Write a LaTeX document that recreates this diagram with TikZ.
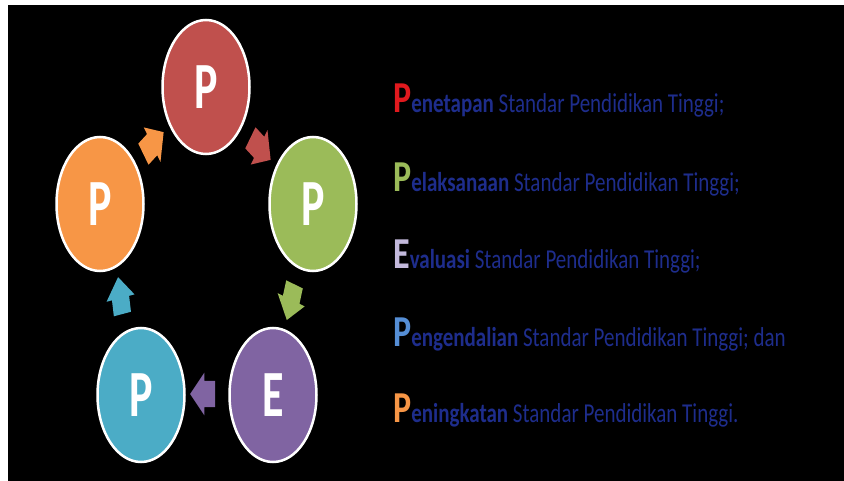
\documentclass[tikz,border=0pt]{standalone}
\usepackage{fontspec}
\setmainfont{Carlito}
\usetikzlibrary{shapes.geometric,shapes.arrows}
\definecolor{cred}{RGB}{192,80,77}
\definecolor{cgreen}{RGB}{155,187,89}
\definecolor{cpurple}{RGB}{128,100,162}
\definecolor{cblue}{RGB}{75,172,198}
\definecolor{corange}{RGB}{247,150,70}
\definecolor{navy}{RGB}{30,45,140}
\definecolor{lred}{RGB}{225,25,30}
\definecolor{llav}{RGB}{195,185,220}
\definecolor{lblue}{RGB}{85,142,213}
\newcommand\vstretch[1]{\scalebox{1}[1.5]{#1}}
\newcommand\tstretch[1]{\scalebox{1}[1.3]{#1}}
\tikzset{
  cyc/.style={ellipse, draw=white, line width=2.5pt, minimum width=87pt, minimum height=134pt,
    inner sep=0pt, text=white, font=\fontsize{44}{44}\selectfont\bfseries},
  blk/.style={single arrow, inner xsep=0pt, inner ysep=8.5pt, minimum height=25pt,
    single arrow head extend=5.5pt, draw=none, transform shape},
  txtline/.style={anchor=base west, inner sep=0pt, text=navy, font=\fontsize{21}{21}\selectfont}
}
\newcommand\initial[2]{{\color{#1}\fontsize{34}{34}\selectfont\bfseries #2}}
\begin{document}
\begin{tikzpicture}[x=1pt,y=-1pt]
\useasboundingbox (0,0) rectangle (844,481);
\fill[white] (0,0) rectangle (844,481);
\fill[black] (8,5) rectangle (844,481);
% cycle ellipses
\node[cyc, fill=cred]    (n1) at (206,87)  {\vstretch{P}};
\node[cyc, fill=cgreen]  (n2) at (313,204) {\vstretch{P}};
\node[cyc, fill=cpurple] (n3) at (273,395) {\vstretch{E}};
\node[cyc, fill=cblue]   (n4) at (141,395) {\vstretch{P}};
\node[cyc, fill=corange] (n5) at (100,204) {\vstretch{P}};
% block arrows
\begin{scope}[shift={(150,147)},yscale=1.5]
  \node[blk, fill=corange, rotate=36] (a5) at (0,0) {};
\end{scope}
\begin{scope}[shift={(257,145)},yscale=1.5]
  \node[blk, fill=cred, rotate=-36] (a1) at (0,0) {};
\end{scope}
\begin{scope}[shift={(292,296)},yscale=1.5]
  \node[blk, fill=cgreen, rotate=-108] (a2) at (0,0) {};
\end{scope}
\begin{scope}[shift={(207,394)},yscale=1.5]
  \node[blk, fill=cpurple, rotate=180] (a3) at (0,0) {};
\end{scope}
\begin{scope}[shift={(121,302)},yscale=1.5]
  \node[blk, fill=cblue, rotate=100] (a4) at (0,0) {};
\end{scope}
% text lines
\node[txtline] (t1) at (393,113) {\tstretch{\initial{lred}{P}\textbf{enetapan} Standar Pendidikan Tinggi;}};
\node[txtline] (t2) at (393,192) {\tstretch{\initial{cgreen}{P}\textbf{elaksanaan} Standar Pendidikan Tinggi;}};
\node[txtline] (t3) at (393,269) {\tstretch{\initial{llav}{E}\textbf{valuasi} Standar Pendidikan Tinggi;}};
\node[txtline] (t4) at (393,346) {\tstretch{\initial{lblue}{P}\textbf{engendalian} Standar Pendidikan Tinggi; dan}};
\node[txtline] (t5) at (393,422) {\tstretch{\initial{corange}{P}\textbf{eningkatan} Standar Pendidikan Tinggi.}};
\end{tikzpicture}
\end{document}
